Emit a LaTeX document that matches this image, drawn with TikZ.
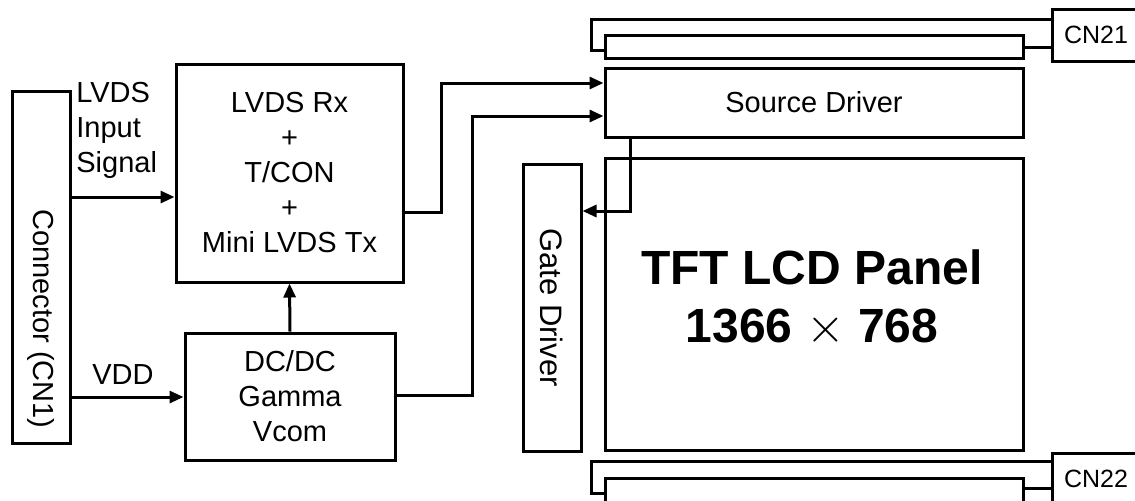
\documentclass[tikz,border=0pt]{standalone}
\usepackage{fontspec}
\setmainfont{Liberation Sans}
\usepackage{tikz}
\usetikzlibrary{arrows.meta, positioning}

\begin{document}
\begin{tikzpicture}[
    x=0.5pt, y=-0.5pt,
    block/.style={rectangle, draw, line width=1.5pt, inner sep=0pt, align=center, font=\fontsize{14.5}{17.5}\selectfont},
    conbox/.style={rectangle, draw, line width=1.5pt, inner sep=0pt, minimum width=44pt, minimum height=26pt, font=\fontsize{12.5}{15}\selectfont},
    lbl/.style={inner sep=0pt, font=\fontsize{14.5}{17.5}\selectfont},
    arrow/.style={-{Triangle[length=7pt, width=6pt]}, line width=1.5pt},
    wire/.style={line width=1.5pt},
]
    \useasboundingbox (0,0) rectangle (1135,500);
    \clip (0,0) rectangle (1135,500);

    \node[block, minimum width=29pt, minimum height=176pt] (cn1) at (41,267) {};
    \node[lbl, rotate=-90] (cn1txt) at (41,319) {Connector (CN1)};
    \node[block, minimum width=113.5pt, minimum height=109pt] (lvds) at (289.5,173) {LVDS Rx\\+\\T/CON\\+\\Mini LVDS Tx};
    \node[block, minimum width=105pt, minimum height=63.5pt] (dcdc) at (290,396.5) {DC/DC\\Gamma\\Vcom};
    \node[block, minimum width=209pt, minimum height=34.5pt] (src) at (814,102.5) {Source Driver};
    \node[block, minimum width=29pt, minimum height=143.5pt] (gate) at (552,307.5) {};
    \node[lbl, rotate=-90, font=\fontsize{15.5}{18}\selectfont] (gatetxt) at (gate.center) {Gate Driver};
    \node[block, minimum width=209pt, minimum height=146pt] (panel) at (814,304) {};
    \node[lbl, align=center, font=\fontsize{24}{29}\selectfont\bfseries] (paneltxt) at (812,298) {TFT LCD Panel\\1366 $\times$ 768};
    \node[block, minimum width=209pt, minimum height=11.5pt] (stript) at (814,46.5) {};
    \node[block, minimum width=209pt, minimum height=21pt] (stripb) at (814,499) {};
    \node[conbox] (cn21) at (1096,35) {CN21};
    \node[conbox] (cn22) at (1096,479) {CN22};

    \node[lbl, align=left, anchor=west] (sigin) at (76,130) {LVDS\\Input\\Signal};
    \node[lbl] (vdd) at (123,375) {VDD};

    \draw[arrow] (cn1.east |- 0,197) -- (lvds.west |- 0,197);
    \draw[arrow] (cn1.east |- 0,397) -- (dcdc.west |- 0,397);
    \draw[arrow] (dcdc.north) -- (lvds.south);
    \draw[arrow] (lvds.east |- 0,212) -| (441,83) -- (src.west |- 0,83);
    \draw[arrow] (dcdc.east |- 0,395) -| (472,116) -- (src.west |- 0,116);
    \draw[arrow] (src.south -| 630,0) |- (gate.east |- 0,211);

    \draw[wire] (cn21.west |- 0,19) -| (591,50) -- (stript.west |- 0,50);
    \draw[wire] (stript.east |- 0,47) -- (cn21.west |- 0,47);
    \draw[wire] (cn22.west |- 0,461) -| (591,493) -- (stripb.west |- 0,493);
    \draw[wire] (stripb.east |- 0,488) -- (cn22.west |- 0,488);
\end{tikzpicture}
\end{document}
